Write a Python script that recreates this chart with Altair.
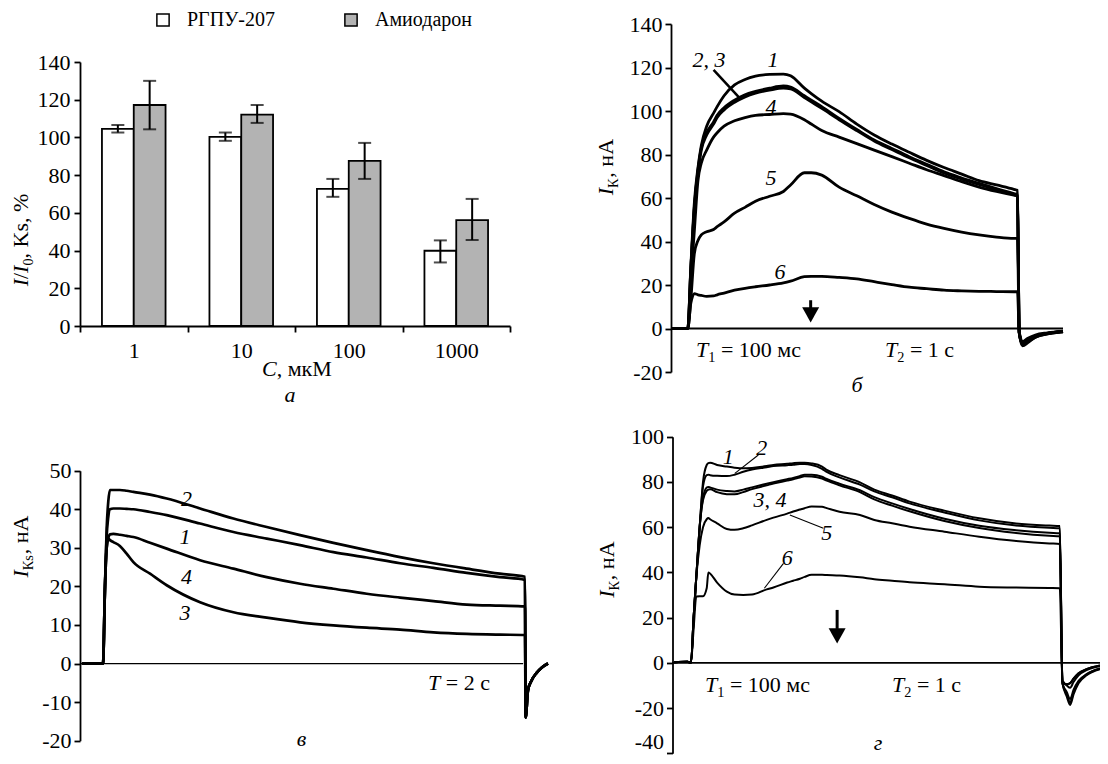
import altair as alt
import pandas as pd

FONT = "Liberation Serif, Times New Roman, serif"
FS = 22
W, H = 1092, 748
M = 8  # page margin: image pixel = chart pixel + 8


def px(x):
    return x - M


def py(y):
    return y - M


AX = dict(labelFont=FONT, labelFontSize=FS, labelColor="black", domainColor="black",
          tickColor="black", domainWidth=1.8, tickWidth=1.8, tickSize=6, grid=False,
          title=None, labelOverlap=False)

# ---------------- panel а : bars ----------------
conc = ["1", "10", "100", "1000"]
series = ["РГПУ-207", "Амиодарон"]
rgpu_mean = [104.5, 100.3, 72.7, 39.9]
rgpu_lo = [102.6, 98.2, 68.5, 33.7]
rgpu_hi = [106.6, 102.6, 78.0, 45.4]
amio_mean = [117.2, 112.1, 87.6, 56.1]
amio_lo = [104.3, 107.7, 78.0, 45.6]
amio_hi = [130.0, 117.2, 97.1, 67.4]
a_yticks = [0, 20, 40, 60, 80, 100, 120, 140]

# ---------------- panel б : I_K traces ----------------
b_t = [-56, 0, 10, 22, 34, 45, 63, 86, 98, 121, 156, 191, 226, 273, 319, 343, 389, 412, 447,
       505, 564, 622, 681, 739, 797, 855, 914, 972, 1030, 1088, 1100, 1106, 1117, 1135, 1160, 1200, 1252]
b_c1 = [0, 0, 28, 58, 74, 84, 93, 99, 102, 107, 112, 114.5, 116, 116.8, 117, 116.2, 110.5, 108, 104.5,
        99.7, 94, 89, 84.8, 81, 77.3, 74, 71, 68, 66, 64, 63.5, -2, -8, -6.5, -4, -2.5, -1.5]
b_c2 = [0, 0, 27, 56, 73, 83, 90, 95, 98, 101.5, 105, 107.5, 109, 110.5, 111.5, 111, 107, 105, 102,
        96.6, 91.5, 86.7, 82.8, 79, 75.5, 72, 69.2, 66.7, 64.3, 62, 61.5, -2, -7.5, -6, -4, -2.5, -1.5]
b_c3 = [0, 0, 27, 55, 72, 82, 89, 94, 97, 100.5, 104, 106.5, 108.2, 109.6, 110.5, 110.2, 106.2, 104.2, 101.2,
        96, 91, 86.2, 82.3, 78.5, 75, 71.5, 68.7, 66.2, 63.8, 61.5, 61, -2, -7, -5.5, -3.5, -2.2, -1.3]
b_c4 = [0, 0, 22, 45, 68, 76, 82, 88, 90, 93, 95.5, 97, 98, 98.4, 98.8, 98.6, 96, 94, 91,
        88, 85, 82, 79, 76, 73, 70.3, 67.5, 65, 63, 61.3, 61, -2, -7, -5.5, -3.5, -2.2, -1.3]
b_c5 = [0, 0, 13, 34.5, 40.5, 43, 44.5, 45.5, 46.8, 49, 53, 55.7, 58.5, 60.8, 63, 66, 71.6, 71.6, 70.5,
        65, 61, 57, 53.5, 50.6, 48, 46, 44.3, 43, 42, 41.4, 41.4, -2, -7, -5.5, -3.5, -2.2, -1.3]
b_c6 = [0, 0, 11.5, 16, 15.5, 15.2, 14.8, 15, 15.5, 16.3, 17.6, 18.5, 19.2, 20, 21, 21.8, 23.8, 24, 24,
        23.5, 22.8, 21.5, 20.2, 19, 18.3, 17.6, 17.3, 17.1, 17, 16.9, 16.9, -1.5, -6, -4.5, -3, -2, -1.2]
b_t_domain = [-56, 1252]
b_v_domain = [-20, 140]
b_yticks = [-20, 0, 20, 40, 60, 80, 100, 120, 140]
b_labels = ["1", "2, 3", "4", "5", "6"]
b_label_t = [284, 71, 278, 278, 308]
b_label_v = [123.5, 123.5, 102, 69, 26]
b_leader = [86, 118.9, 174, 105.8]
b_arrow = [410, 13, 9, 6.3]  # t, shaft top, shaft bottom, head centre

# ---------------- panel в : I_Ks traces ----------------
v_t = [-100, -50, 0, 9.5, 17.4, 25, 33, 49, 80, 112, 144, 223, 302, 460, 618, 776, 934, 1092,
       1250, 1408, 1566, 1724, 1881, 2000, 2003, 2014, 2030, 2055, 2080, 2109]
v_c1 = [0, 0, 0, 20, 33, 38, 40, 40.2, 40.2, 40.1, 40, 39.3, 38.5, 36.3, 34.1, 32.4, 30.7, 28.9,
        27.5, 26, 24.8, 23.5, 22.4, 21.7, -14, -7, -4.5, -2.4, -1, 0]
v_c2 = [0, 0, 0, 20, 35, 42, 45, 45, 45, 44.8, 44.5, 43.8, 42.8, 40.2, 37.6, 35.4, 33.3, 31.3,
        29.4, 27.6, 26, 24.6, 23.3, 22.5, -14, -7, -4.5, -2.4, -1, 0]
v_c3 = [0, 0, 0, 20, 30, 32.4, 32, 31.5, 30.5, 28.5, 26.3, 23.3, 20.3, 15.9, 13.3, 11.9, 10.7, 9.9,
        9.3, 8.8, 8.1, 7.7, 7.5, 7.4, -14, -7, -4.5, -2.4, -1, 0]
v_c4 = [0, 0, 0, 20, 30, 32.5, 33.5, 33.6, 33.4, 33.1, 32.8, 31.3, 29.8, 26.8, 24.6, 22.4, 20.7, 19.4,
        18.1, 17.1, 16.2, 15.3, 15, 14.8, -14, -7, -4.5, -2.4, -1, 0]
v_t_domain = [-109, 2109]
v_axis_end = 1991
v_v_domain = [-20, 50]
v_yticks = [-20, -10, 0, 10, 20, 30, 40, 50]
v_labels = ["2", "1", "4", "3"]
v_label_t = [396, 389, 396, 389]
v_label_v = [42.6, 32.8, 22.4, 13.1]

# ---------------- panel г : I_K traces ----------------
g_t = [-50, -10, 0, 8, 16, 26, 36, 47, 52, 57, 78, 107, 130, 156, 182, 226, 246, 287, 305, 325, 339,
       360, 391, 405, 443, 504, 547, 600, 652, 756, 860, 964, 1069, 1100, 1108, 1121, 1131, 1141, 1156, 1180, 1220]
g_c1 = [0.3, 0.5, 0, 20, 38, 60, 80, 87.5, 88.3, 88.5, 87.5, 86.8, 86.3, 86, 86.2, 87, 87.5, 88, 88.3, 88.5, 88.5,
        88.2, 86.8, 85.3, 83, 79.8, 76.6, 74, 71.3, 67.3, 63.9, 61.7, 60.7, 60.5, -9, -15, -18.6, -14, -9, -5.5, -2.8]
g_c2 = [0.3, 0.5, 0, 20, 38, 60, 78, 83, 83.2, 83, 82.7, 82.6, 83.2, 84.5, 85.5, 86.5, 87, 87.4, 87.6, 87.9, 87.9,
        87.5, 85.8, 84.4, 82, 78.8, 75.8, 73.2, 70.5, 66.5, 63, 60.8, 59.7, 59.5, -9, -14, -17.5, -13, -8.5, -5.2, -2.6]
g_c3 = [0.3, 0.5, 0, 20, 38, 60, 72, 76, 76.6, 76.8, 75.5, 74.6, 74.5, 75.5, 76.8, 78.5, 79.3, 80.6, 81.2, 82, 82.5,
        82.4, 81.5, 80.6, 78.5, 75.5, 72.3, 69.5, 67, 62.7, 59.6, 57.5, 56.2, 56, -9, -13, -16, -12, -8, -5, -2.5]
g_c4 = [0.3, 0.5, 0, 20, 38, 60, 73, 77.5, 77.8, 77.6, 76.6, 76, 75.8, 76.6, 77.6, 79.2, 79.9, 81.2, 81.8, 82.6, 83.2,
        83.2, 82.3, 81.3, 79.2, 76.3, 73.3, 70.5, 68, 63.7, 60.6, 58.7, 57.5, 57.3, -8, -10, -11, -8.5, -5.5, -3.2, -1.5]
g_c5 = [0.3, 0.5, 0, 20, 38, 52, 60, 63.5, 64, 63.5, 61.7, 59.2, 58.8, 59.5, 60.8, 63.2, 64.2, 66, 66.9, 67.8, 68.4,
        69.1, 69, 68.4, 66.8, 65.4, 63.2, 61.7, 60.2, 58, 55.8, 54, 52.8, 52.6, -8, -9.5, -9, -7, -4.6, -2.8, -1.2]
g_c6 = [0.3, 0.5, 0, 15, 29.3, 29.5, 29.5, 33, 40, 39.5, 35.5, 31.5, 30.2, 30, 30.2, 32.5, 33.3, 35.5, 36.3, 37.2, 38,
        38.9, 38.9, 38.8, 38.6, 37.8, 37, 36.3, 35.6, 34.8, 33.7, 33.3, 33.1, 33, -8, -9.5, -9, -7, -4.6, -2.8, -1.2]
g_t_domain = [-55, 1220]
g_v_domain = [-40, 100]
g_yticks = [-40, -20, 0, 20, 40, 60, 80, 100]
g_labels = ["1", "2", "3, 4", "5", "6"]
g_label_t = [111, 211, 236, 405, 287]
g_label_v = [91.2, 94.9, 72, 57.3, 46.3]
g_leaders = [[201, 91.9, 131, 83.8], [395, 59.5, 295, 65.4], [276, 44, 219, 33]]
g_arrow = [436, 23.4, 15, 11.9]

ARROW = "M-1,-0.9L1,-0.9L0,0.9Z"
LABEL_EXPR = "toString(datum.value)"


def long(t, curves):
    rows = []
    for name, vals in curves.items():
        for tt, vv in zip(t, vals):
            rows.append({"t": tt, "v": vv, "curve": name})
    return pd.DataFrame(rows)


# ================= panel а =================
rows = []
for i, c in enumerate(conc):
    rows.append(dict(conc=c, series=series[0], mean=rgpu_mean[i], lo=rgpu_lo[i], hi=rgpu_hi[i]))
    rows.append(dict(conc=c, series=series[1], mean=amio_mean[i], lo=amio_lo[i], hi=amio_hi[i]))
df_a = pd.DataFrame(rows)


def xa():
    return alt.X("conc:N", sort=conc,
                 scale=alt.Scale(domain=conc, range=[px(80), px(510)], paddingInner=0, paddingOuter=0),
                 axis=alt.Axis(orient="bottom", offset=py(326) - H, tickBand="extent", labelAngle=0,
                               labelPadding=8, **AX))


def ya(f):
    return alt.Y(f"{f}:Q", scale=alt.Scale(domain=[0, 140], range=[py(326), py(62)], nice=False, zero=False),
                 axis=alt.Axis(orient="left", offset=-px(80), values=a_yticks, labelPadding=4,
                               labelExpr=LABEL_EXPR, **AX))


XO = alt.XOffset("series:N", sort=series,
                 scale=alt.Scale(domain=series, paddingInner=0, paddingOuter=0.69))

bars = alt.Chart(df_a).mark_bar(stroke="black", strokeWidth=1.8).encode(
    x=xa(), xOffset=XO, y=ya("mean"),
    color=alt.Color("series:N", sort=series,
                    scale=alt.Scale(domain=series, range=["#ffffff", "#b3b3b3"]),
                    legend=alt.Legend(orient="none", legendX=px(153), legendY=2, direction="horizontal",
                                      title=None, symbolType="square", symbolSize=150,
                                      symbolStrokeColor="black", symbolStrokeWidth=1.5, symbolOpacity=1,
                                      labelFont=FONT, labelFontSize=20, labelColor="black",
                                      labelOffset=14, columnPadding=66)))
err = alt.Chart(df_a).mark_rule(color="black", strokeWidth=2).encode(
    x=xa(), xOffset=XO, y=ya("lo"), y2="hi")
cap_lo = alt.Chart(df_a).mark_tick(color="black", thickness=2, size=13).encode(
    x=xa(), xOffset=XO, y=ya("lo"))
cap_hi = alt.Chart(df_a).mark_tick(color="black", thickness=2, size=13).encode(
    x=xa(), xOffset=XO, y=ya("hi"))
panel_a = alt.layer(bars, err, cap_lo, cap_hi)


# ================= trace panels =================
def trace_panel(t, curves, t_dom, v_dom, yticks, xr, yr, axis_x, line_w, zero_end, zero_w,
                labels, lab_t, lab_v, leaders, leader_w, arrow, extra_axis=None):
    extra_axis = extra_axis or {}

    def fx(f):
        return alt.X(f"{f}:Q", scale=alt.Scale(domain=t_dom, range=[px(xr[0]), px(xr[1])], nice=False, zero=False),
                     axis=None)

    def fy(f):
        return alt.Y(f"{f}:Q", scale=alt.Scale(domain=v_dom, range=[py(yr[0]), py(yr[1])], nice=False, zero=False),
                     axis=alt.Axis(orient="left", offset=-px(axis_x), values=yticks, labelPadding=3,
                                   labelExpr=LABEL_EXPR, **AX, **extra_axis))

    layers = []
    zdf = pd.DataFrame({"x0": [t_dom[0]], "x1": [zero_end], "y0": [0]})
    layers.append(alt.Chart(zdf).mark_rule(color="black", strokeWidth=zero_w).encode(
        x=fx("x0"), x2="x1", y=fy("y0")))
    layers.append(alt.Chart(long(t, curves)).mark_line(
        color="black", strokeWidth=line_w, interpolate="monotone").encode(
        x=fx("t"), y=fy("v"), detail="curve:N"))
    ldf = pd.DataFrame({"label": labels, "t": lab_t, "v": lab_v})
    layers.append(alt.Chart(ldf).mark_text(font=FONT, fontSize=FS, fontStyle="italic", color="black").encode(
        x=fx("t"), y=fy("v"), text="label:N"))
    if leaders:
        lead = pd.DataFrame(leaders, columns=["t0", "v0", "t1", "v1"])
        layers.append(alt.Chart(lead).mark_rule(color="black", strokeWidth=leader_w).encode(
            x=fx("t0"), y=fy("v0"), x2="t1", y2="v1"))
    if arrow:
        adf = pd.DataFrame({"t": [arrow[0]], "v0": [arrow[1]], "v1": [arrow[2]], "vh": [arrow[3]]})
        layers.append(alt.Chart(adf).mark_rule(color="black", strokeWidth=3).encode(
            x=fx("t"), y=fy("v0"), y2="v1"))
        layers.append(alt.Chart(adf).mark_point(shape=ARROW, size=289, filled=True, color="black",
                                                opacity=1, strokeWidth=0).encode(x=fx("t"), y=fy("vh")))
    return alt.layer(*layers)


panel_b = trace_panel(b_t, {"1": b_c1, "2": b_c2, "3": b_c3, "4": b_c4, "5": b_c5, "6": b_c6},
                      b_t_domain, b_v_domain, b_yticks, (671, 1063), (372, 24), 671, 2.8,
                      b_t_domain[1], 1.8, b_labels, b_label_t, b_label_v, [b_leader], 2.5, b_arrow)
panel_v = trace_panel(v_t, {"1": v_c1, "2": v_c2, "3": v_c3, "4": v_c4},
                      v_t_domain, v_v_domain, v_yticks, (80, 548), (740.7, 470.7), 80, 2.7,
                      v_axis_end, 1.3, v_labels, v_label_t, v_label_v, None, 1, None)
panel_g = trace_panel(g_t, {"1": g_c1, "2": g_c2, "3": g_c3, "4": g_c4, "5": g_c5, "6": g_c6},
                      g_t_domain, g_v_domain, g_yticks, (672.5, 1100), (753.3, 436.7), 672.5, 2.0,
                      g_t_domain[1], 1.8, g_labels, g_label_t, g_label_v, g_leaders, 1.1, g_arrow,
                      extra_axis={"labelBaseline": {"condition": {"test": "datum.value == -40",
                                                                  "value": "bottom"},
                                                    "value": "middle"}})

# ================= text annotations (titles, composite labels) =================
SUB = 0.65    # subscript size factor
SUBD = 0.23   # subscript shift (em)


def compose(x, y, parts, angle=0, center=False):
    """parts: (text, italic, width_em, is_sub). Returns rows positioned along the text direction."""
    total = sum(w * FS * (SUB if s else 1) for _, _, w, s in parts)
    pos = (y + total / 2) if (center and angle == 270) else x
    out = []
    for text, it, w, s in parts:
        size = FS * SUB if s else FS
        if text.strip():
            if angle == 270:
                out.append((x + (SUBD * FS if s else 0), pos, text, size, 270, it))
            else:
                out.append((pos, y + (SUBD * FS if s else 0), text, size, 0, it))
        pos = pos - w * size if angle == 270 else pos + w * size
    return out


ann = []
# y titles (rotated): baseline x, centre y
ann += compose(28, 240, [("I", 1, 0.333, 0), ("/", 0, 0.278, 0), ("I", 1, 0.333, 0),
                         ("0", 0, 0.5, 1), (", Ks, %", 0, 2.944, 0)], 270, True)
ann += compose(613, 167.5, [("I", 1, 0.333, 0), ("К", 0, 0.72, 1), (", нА", 0, 1.722, 0)], 270, True)
ann += compose(28, 547, [("I", 1, 0.333, 0), ("Кs", 0, 1.109, 1), (", нА", 0, 1.722, 0)], 270, True)
ann += compose(614, 570, [("I", 1, 0.333, 0), ("К", 0, 0.72, 1), (", нА", 0, 1.722, 0)], 270, True)
# x title of а
ann += compose(262, 376, [("C", 1, 0.667, 0), (", мкМ", 0, 2.49, 0)])
# pulse annotations
T1 = [("T", 1, 0.556, 0), ("1", 0, 0.5, 1), (" ", 0, 0.25, 0), ("= 100 мс", 0, 3.6, 0)]
T2 = [("T", 1, 0.556, 0), ("2", 0, 0.5, 1), (" ", 0, 0.25, 0), ("= 1 с", 0, 2.0, 0)]
ann += compose(696, 357, T1)
ann += compose(885, 357, T2)
ann += compose(705, 692, T1)
ann += compose(892, 692, T2)
ann += compose(428, 690, [("T", 1, 0.556, 0), (" ", 0, 0.25, 0), ("= 2 с", 0, 2.0, 0)])
# panel letters (centred)
for cx, by_, letter, em in [(290, 402, "а", 0.5), (857, 392, "б", 0.5), (301.7, 746, "в", 0.46),
                            (878, 750, "г", 0.39)]:
    ann += compose(cx - em * FS / 2, by_, [(letter, 1, em, 0)])

ital = [r[:5] for r in ann if r[5]]
roman = [r[:5] for r in ann if not r[5]]


def ann_df(items):
    return pd.DataFrame([{"px": px(x), "py": py(y), "text": s, "sz": z, "ang": a} for x, y, s, z, a in items])


def ann_layer(items, style):
    return alt.Chart(ann_df(items)).mark_text(
        font=FONT, fontStyle=style, align="left", baseline="alphabetic", color="black").encode(
        x=alt.X("px:Q", scale=None, axis=None), y=alt.Y("py:Q", scale=None, axis=None),
        text="text:N", size=alt.Size("sz:Q", scale=None, legend=None),
        angle=alt.Angle("ang:Q", scale=None, legend=None))


chart = alt.layer(
    panel_a, panel_b, panel_v, panel_g,
    ann_layer(ital, "italic"), ann_layer(roman, "normal"),
).resolve_scale(
    x="independent", y="independent", color="independent"
).properties(
    width=W, height=H, padding=0, background="white",
    autosize=alt.AutoSizeParams(type="none"),
).configure_view(stroke=None)

chart.save("out.html", embed_options={"renderer": "svg", "actions": False})
